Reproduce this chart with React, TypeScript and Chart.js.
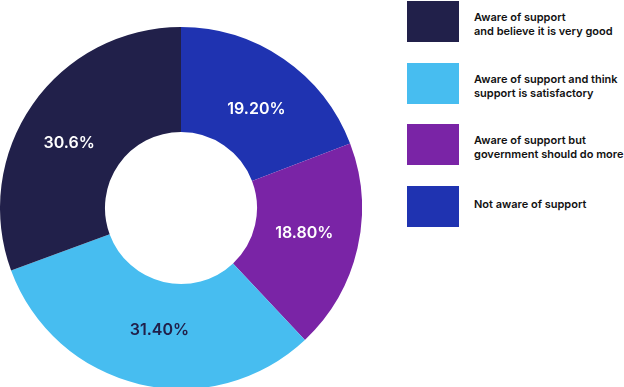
import React, { useEffect, useRef } from "react";
import { Chart, registerables } from "chart.js";

Chart.register(...registerables);

// Legend order (as shown on the right)
const legendLabels: string[][] = [
  ["Aware of support", "and believe it is very good"],
  ["Aware of support and think", "support is satisfactory"],
  ["Aware of support but", "government should do more"],
  ["Not aware of support"],
];
const legendColors = ["#21204a", "#47bdf0", "#7a24a6", "#1f33b1"];

// Slice order as drawn clockwise from 12 o'clock
const sliceLabels = [
  "Not aware of support",
  "Aware of support but government should do more",
  "Aware of support and think support is satisfactory",
  "Aware of support and believe it is very good",
];
const sliceValues = [19.2, 18.8, 31.4, 30.6];
const sliceTexts = ["19.20%", "18.80%", "31.40%", "30.6%"];
const sliceColors = ["#1f33b1", "#7a24a6", "#47bdf0", "#21204a"];
const sliceTextColors = ["#ffffff", "#ffffff", "#21204a", "#ffffff"];

// small visual nudges of the value labels relative to the slice centre
const LABEL_NUDGE: [number, number][] = [
  [2.5, 7.5],
  [-2, -3.5],
  [8, -2.5],
  [-6.5, 8.5],
];

const labelPlugin = {
  id: "sliceLabels",
  afterDatasetsDraw(chart: any) {
    const ctx = chart.ctx;
    const meta = chart.getDatasetMeta(0);
    ctx.save();
    ctx.font = "600 16px Inter, 'Noto Sans', sans-serif";
    ctx.textAlign = "center";
    ctx.textBaseline = "middle";
    meta.data.forEach((arc: any, i: number) => {
      const p = arc.tooltipPosition();
      const n = LABEL_NUDGE[i] || [0, 0];
      ctx.fillStyle = sliceTextColors[i];
      ctx.fillText(sliceTexts[i], p.x + n[0], p.y + n[1]);
    });
    ctx.restore();
  },
};

export default function App() {
  const ref = useRef<HTMLCanvasElement>(null);
  useEffect(() => {
    if (!ref.current) return;
    const chart = new Chart(ref.current, {
      type: "doughnut",
      data: {
        labels: sliceLabels,
        datasets: [
          {
            data: sliceValues,
            backgroundColor: sliceColors,
            borderWidth: 0,
          },
        ],
      },
      options: {
        responsive: false,
        animation: false,
        cutout: "42%",
        layout: { padding: 0 },
        plugins: {
          legend: { display: false },
          tooltip: { enabled: false },
        },
      },
      plugins: [labelPlugin],
    });
    return () => chart.destroy();
  }, []);

  return (
    <div
      style={{
        position: "fixed",
        left: 0,
        top: 0,
        width: 624,
        height: 387,
        background: "#ffffff",
        overflow: "hidden",
        fontFamily: "Inter, 'Noto Sans', sans-serif",
      }}
    >
      <canvas
        ref={ref}
        width={362}
        height={362}
        style={{ position: "absolute", left: 0, top: 27, width: 362, height: 362 }}
      />
      {legendLabels.map((lines, i) => {
        const boxTop = 1 + i * 61.6;
        return (
          <React.Fragment key={i}>
            <div
              style={{
                position: "absolute",
                left: 407,
                top: boxTop,
                width: 52,
                height: 41,
                background: legendColors[i],
              }}
            />
            <div
              style={{
                position: "absolute",
                left: 474,
                top: boxTop + (lines.length > 1 ? 9 : 11.5),
                fontSize: 11,
                fontWeight: 600,
                lineHeight: "14px",
                color: "#111111",
                whiteSpace: "nowrap",
              }}
            >
              {lines.map((l, j) => (
                <div key={j}>{l}</div>
              ))}
            </div>
          </React.Fragment>
        );
      })}
    </div>
  );
}
